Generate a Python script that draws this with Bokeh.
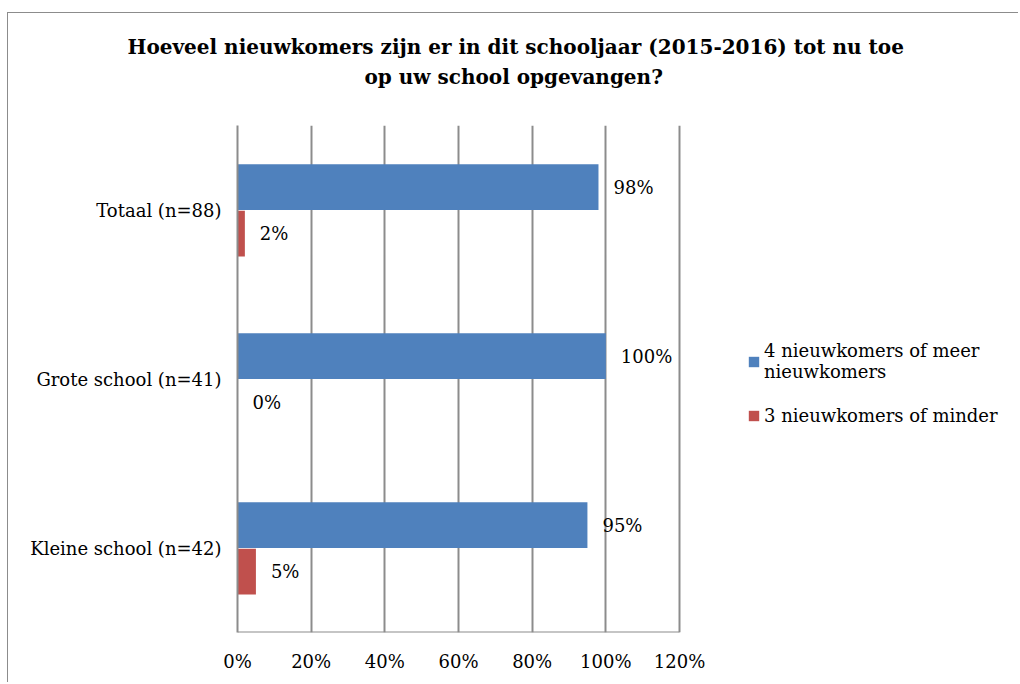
from bokeh.plotting import figure
from bokeh.models import (FactorRange, Legend, LegendItem, Title,
                          ColumnDataSource, FixedTicker)
from bokeh.transform import dodge
from bokeh.core.properties import value
from bokeh.embed import file_html
from bokeh.resources import INLINE

title_lines = ["Hoeveel nieuwkomers zijn er in dit schooljaar (2015-2016) tot nu toe",
               "op uw school opgevangen?"]
categories = ["Kleine school (n=42)", "Grote school (n=41)", "Totaal (n=88)"]
series_names = ["4 nieuwkomers of meer\nnieuwkomers", "3 nieuwkomers of minder"]
meer = [95, 100, 98]
minder = [5, 0, 2]
x_ticks = [0, 20, 40, 60, 80, 100, 120]
x_tick_labels = ["0%", "20%", "40%", "60%", "80%", "100%", "120%"]

BLUE = "#4F81BD"
RED = "#C0504D"
GRID = "#8c8c8c"
FONT = "DejaVu Serif"
FS = "18px"

src = ColumnDataSource(dict(
    cat=categories,
    meer=meer,
    minder=minder,
    meer_lbl=[f"{v}%" for v in meer],
    minder_lbl=[f"{v}%" for v in minder],
))

# plot area spans to the right edge so that the legend can sit inside it;
# the scale keeps 0..120 over 442 px as in the original
X_END = 212.3
p = figure(width=1011, height=670, y_range=FactorRange(*categories), x_range=(0, X_END),
           output_backend="svg", toolbar_location=None,
           min_border_left=229, min_border_right=0, min_border_top=112, min_border_bottom=51)
p.title.visible = False
p.margin = (12, 0, 0, 7)
p.styles = {"border-left": "1px solid #8c8c8c", "border-top": "1px solid #8c8c8c"}

r1 = p.hbar(y=dodge("cat", 0.135, range=p.y_range), left=0, right="meer", height=0.27,
            source=src, fill_color=BLUE, line_color=None)
r2 = p.hbar(y=dodge("cat", -0.14, range=p.y_range), left=0, right="minder", height=0.27,
            source=src, fill_color=RED, line_color=None)

p.text(x="meer", y=dodge("cat", 0.135, range=p.y_range), text="meer_lbl", source=src,
       x_offset=15, text_baseline="middle", text_align="left",
       text_font=value(FONT), text_font_size=FS, text_color="#000000")
p.text(x="minder", y=dodge("cat", -0.14, range=p.y_range), text="minder_lbl", source=src,
       x_offset=15, text_baseline="middle", text_align="left",
       text_font=value(FONT), text_font_size=FS, text_color="#000000")

# bottom axis line only under 0..120
p.segment(x0=[x_ticks[0]], x1=[x_ticks[-1]], y0=[0], y1=[0],
          line_color=GRID, line_width=2)

p.xaxis.ticker = FixedTicker(ticks=x_ticks)
p.xaxis.major_label_overrides = {t: l for t, l in zip(x_ticks, x_tick_labels)}
for ax in (p.xaxis, p.yaxis):
    ax.major_tick_line_color = None
    ax.minor_tick_line_color = None
    ax.major_tick_out = 0
    ax.major_tick_in = 0
    ax.minor_tick_out = 0
    ax.major_label_text_font = FONT
    ax.major_label_text_font_size = FS
    ax.major_label_text_color = "#000000"
p.xaxis.axis_line_color = None
p.yaxis.axis_line_color = GRID
p.yaxis.axis_line_width = 2
p.xaxis.major_label_standoff = 18
p.yaxis.major_label_standoff = 16

p.xgrid.grid_line_color = GRID
p.xgrid.grid_line_width = 2
p.xgrid.ticker = FixedTicker(ticks=x_ticks)
p.ygrid.grid_line_color = None
p.outline_line_color = None

spacer = Title(text=" ", text_font_size="10px", standoff=22)
t2 = Title(text=title_lines[1], align="left", offset=127, text_font=FONT,
           text_font_size="20px", text_font_style="bold", text_color="#000000", standoff=4)
t1 = Title(text=title_lines[0], align="left", offset=-110, text_font=FONT,
           text_font_size="20px", text_font_style="bold", text_color="#000000", standoff=4)
p.add_layout(spacer, "above")
p.add_layout(t2, "above")
p.add_layout(t1, "above")

legend = Legend(items=[LegendItem(label=series_names[0], renderers=[r1]),
                       LegendItem(label=series_names[1], renderers=[r2])],
                location=(510, 206), padding=0, margin=0, border_line_color=None,
                background_fill_alpha=0, glyph_width=13, glyph_height=13,
                label_standoff=4, spacing=23, label_text_line_height=1.55,
                label_text_font=FONT, label_text_font_size=FS, label_text_color="#000000")
p.add_layout(legend, "center")

open("out.html", "w").write(file_html(p, INLINE))
